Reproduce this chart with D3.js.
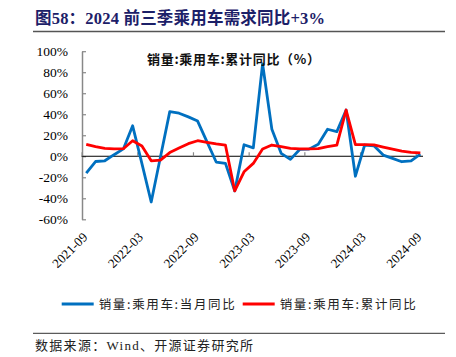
<!DOCTYPE html>
<html><head><meta charset="utf-8">
<script src="https://cdn.jsdelivr.net/npm/d3@7"></script>
<style>
body{margin:0;background:#fff;}
svg{display:block;}
</style></head>
<body>
<svg id="c" width="456" height="357"></svg>
<script>
const months = ["2021-09","2021-10","2021-11","2021-12","2022-01","2022-02","2022-03","2022-04","2022-05","2022-06","2022-07","2022-08","2022-09","2022-10","2022-11","2022-12","2023-01","2023-02","2023-03","2023-04","2023-05","2023-06","2023-07","2023-08","2023-09","2023-10","2023-11","2023-12","2024-01","2024-02","2024-03","2024-04","2024-05","2024-06","2024-07","2024-08","2024-09"];
const monthlyYoY = [-16,-5,-4.3,1.5,7,29,-7,-43.5,-0.5,42.5,41,37.5,33.5,14,-5.5,-6.8,-33,11,8,88,25.7,2.8,-3,6.5,6.8,11.4,25.7,23.5,44,-19,10.7,10,1.1,-2,-5.2,-4.3,2];
const cumulativeYoY = [11.4,9.1,7.6,7,7.2,14.8,9.8,-4.3,-3.6,3.5,7.8,12,14.8,13.3,11.7,10.5,-33,-14.8,-6.8,6.9,10.7,9.1,7.6,7,7,7.2,9.1,10.7,44,11,11,10.8,8.8,6.7,4.8,3.7,3.3];
const yTicks = [-60,-40,-20,0,20,40,60,80,100];
const xLabelMonths = ["2021-09","2022-03","2022-09","2023-03","2023-09","2024-03","2024-09"];
const seriesNames = ["销量:乘用车:当月同比","销量:乘用车:累计同比"];
const titleText = "图58：2024 前三季乘用车需求同比+3%";
const noteText = "销量:乘用车:累计同比（%）";
const sourceText = "数据来源：Wind、开源证券研究所";

const svg = d3.select("#c");
const serif = "'Liberation Serif','Times New Roman','Noto Sans CJK SC',serif";
const cjk = "'Noto Sans CJK SC','Liberation Serif',sans-serif";

// title
svg.append("text").attr("x",35).attr("y",24).attr("font-family",serif).attr("font-weight","bold")
  .attr("font-size",16.5).attr("fill","#1c2068").attr("textLength",290).attr("lengthAdjust","spacing").text(titleText);
svg.append("line").attr("x1",33).attr("x2",445).attr("y1",31.5).attr("y2",31.5)
  .attr("stroke","#555").attr("stroke-width",1.5);

const x = d3.scaleLinear().domain([0, months.length]).range([81.6, 425]);
const y = d3.scaleLinear().domain([-60,100]).range([219.3, 51.2]);
const idx = d => months.indexOf(d);

// y axis
const ya = svg.append("g").attr("transform","translate(82,0)")
  .call(d3.axisLeft(y).tickValues(yTicks).tickFormat(d=>d+"%").tickSizeInner(-4).tickSizeOuter(0).tickPadding(14));
ya.select(".domain").attr("stroke","#888").attr("stroke-width",1.5);
ya.selectAll(".tick line").attr("stroke","#888").attr("stroke-width",1.2);
ya.selectAll(".tick text").attr("font-family",serif).attr("font-size",13.5).attr("fill","#000");

// zero axis
const tickIdx = xLabelMonths.map(idx);
const xa = svg.append("g").attr("transform",`translate(0,${y(0)})`)
  .call(d3.axisBottom(x).tickValues(tickIdx).tickFormat("").tickSizeInner(-4).tickSizeOuter(0));
xa.select(".domain").attr("stroke","#000").attr("stroke-width",1).attr("d",`M${x(0)},0H${x(months.length)-2}`);
xa.selectAll(".tick line").attr("stroke","#888").attr("stroke-width",1.2);

// x labels
svg.append("g").selectAll("text").data(xLabelMonths).join("text")
  .attr("transform",d=>`translate(${x(idx(d)+0.5)+2},238) rotate(-45)`)
  .attr("text-anchor","end").attr("font-family",serif).attr("font-size",13).attr("fill","#000")
  .text(d=>d);

// lines
const line = d3.line().x((d,i)=>x(i+0.5)).y(d=>y(d));
svg.append("path").datum(monthlyYoY).attr("d",line).attr("fill","none")
  .attr("stroke","#0070C0").attr("stroke-width",2.8).attr("stroke-linejoin","round");
svg.append("path").datum(cumulativeYoY).attr("d",line).attr("fill","none")
  .attr("stroke","#FF0000").attr("stroke-width",2.8).attr("stroke-linejoin","round");

// inline note
svg.append("text").attr("x",147).attr("y",63.5).attr("font-family",cjk).attr("font-size",13)
  .attr("font-weight","bold").attr("fill","#111")
  .attr("textLength",173).attr("lengthAdjust","spacing").text(noteText);

// legend
const legColors = ["#0070C0","#FF0000"];
const legX = [61.7, 242.7];
const lg = svg.append("g");
seriesNames.forEach((n,i)=>{
  lg.append("line").attr("x1",legX[i]).attr("x2",legX[i]+32).attr("y1",304).attr("y2",304)
    .attr("stroke",legColors[i]).attr("stroke-width",2.8);
  lg.append("text").attr("x",legX[i]+37).attr("y",308.5).attr("font-family",cjk).attr("font-size",12.5)
    .attr("fill","#222").attr("textLength",136).attr("lengthAdjust","spacing").text(n);
});

// source
svg.append("line").attr("x1",33).attr("x2",445).attr("y1",333.3).attr("y2",333.3)
  .attr("stroke","#333").attr("stroke-width",1);
svg.append("text").attr("x",35).attr("y",350).attr("font-family",serif).attr("font-size",13)
  .attr("fill","#222").attr("textLength",218).attr("lengthAdjust","spacing").text(sourceText);
</script>
</body></html>
